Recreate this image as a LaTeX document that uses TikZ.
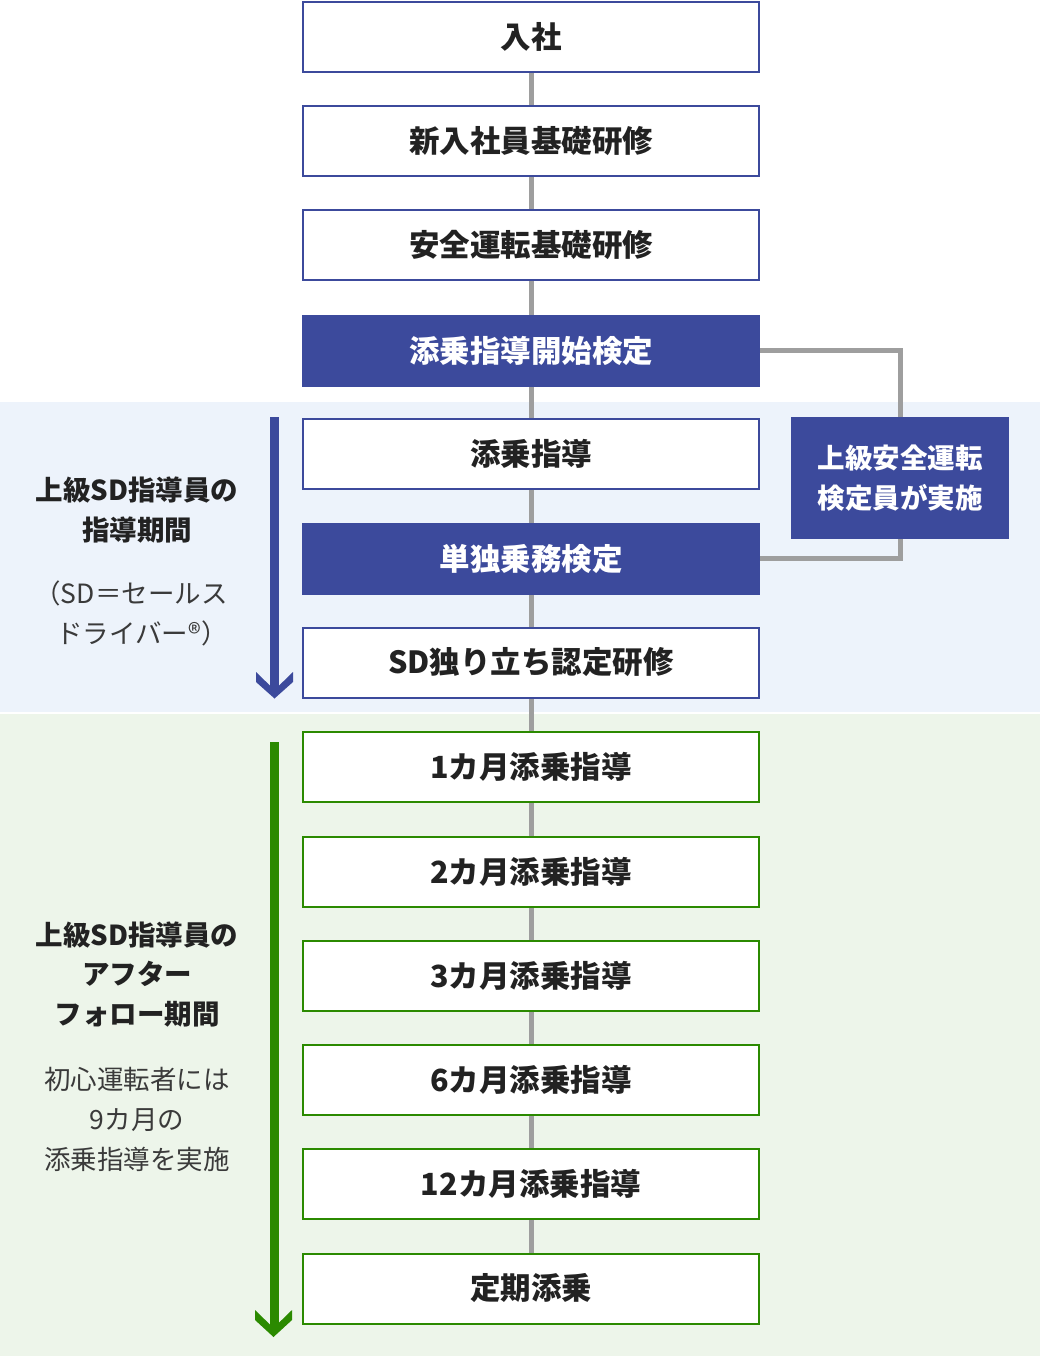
\documentclass[tikz,border=0pt]{standalone}
\usepackage{fontspec}
\setmainfont{Noto Sans CJK JP}
\begin{document}
\begin{tikzpicture}[x=1pt,y=-1pt,
  box/.style={draw=#1,line width=2pt,fill=white,minimum width=456pt,minimum height=70pt,inner sep=0pt,
    font=\fontsize{30.5}{36}\selectfont\bfseries,text=txt},
  box/.default=bl,
  fbox/.style={fill=bl,minimum width=458pt,minimum height=72pt,inner sep=0pt,
    font=\fontsize{30.5}{36}\selectfont\bfseries,text=white},
  conn/.style={draw=gr,line width=5pt},
  side/.style={align=center,inner sep=0pt}
]
\definecolor{bl}{HTML}{3C4A9C}
\definecolor{gn}{HTML}{2B8A00}
\definecolor{gr}{HTML}{9E9E9E}
\definecolor{bband}{HTML}{EDF3FB}
\definecolor{gband}{HTML}{EDF5EA}
\definecolor{txt}{HTML}{222222}
\definecolor{txt2}{HTML}{3A3A3A}
\useasboundingbox (0,0) rectangle (1040,1356);
\fill[white] (0,0) rectangle (1040,1356);
\fill[bband] (0,402) rectangle (1040,712);
\fill[gband] (0,714) rectangle (1040,1356);
% spine
\coordinate (top) at (531,37);
\coordinate (bot) at (531,1289);
\draw[conn] (top) -- (bot);
% boxes
\node[box] (b1) at (531,37) {入社};
\node[box] (b2) at (531,141) {新入社員基礎研修};
\node[box] (b3) at (531,245) {安全運転基礎研修};
\node[fbox] (b4) at (531,350.5) {添乗指導開始検定};
\node[box] (b5) at (531,454) {添乗指導};
\node[fbox] (b6) at (531,558.5) {単独乗務検定};
\node[box] (b7) at (531,662.5) {SD独り立ち認定研修};
\node[box=gn] (b8) at (531,767) {1カ月添乗指導};
\node[box=gn] (b9) at (531,872) {2カ月添乗指導};
\node[box=gn] (b10) at (531,976) {3カ月添乗指導};
\node[box=gn] (b11) at (531,1080) {6カ月添乗指導};
\node[box=gn] (b12) at (531,1184) {12カ月添乗指導};
\node[box=gn] (b13) at (531,1288.5) {定期添乗};
% side box
\node[fill=bl,minimum width=218pt,minimum height=122pt,inner sep=0pt,align=center,
  text=white,font=\fontsize{27.5}{40}\selectfont\bfseries] (sb) at (900,478) {上級安全運転\\検定員が実施};
\draw[conn] (b4.east) -| (sb.north);
\draw[conn] (sb.south) |- (b6.east);
% blue arrow
\fill[bl] (270,417) rectangle (279,690);
\fill[bl] (256,672) -- (274.5,690) -- (293,672) -- (293,682) -- (274.5,698.5) -- (256,682) -- cycle;
% green arrow
\fill[gn] (270,742) rectangle (279,1328);
\fill[gn] (255,1310) -- (273.5,1328) -- (292,1310) -- (292,1320) -- (273.5,1337) -- (255,1320) -- cycle;
% side texts
\node[side,text=txt,font=\fontsize{27.5}{40}\selectfont\bfseries] (t1) at (137,510) {上級SD指導員の\\指導期間};
\node[side,text=txt2,font=\fontsize{26.5}{39.5}\selectfont] (t2) at (137,613.5) {\hspace*{-12pt}（SD＝セールス\\ドライバー®）\hspace*{-10pt}};
\node[side,text=txt,font=\fontsize{27.5}{39.5}\selectfont\bfseries] (t3) at (137,974.5) {上級SD指導員の\\アフター\\フォロー期間};
\node[side,text=txt2,font=\fontsize{26.5}{40}\selectfont] (t4) at (137,1119) {初心運転者には\\9カ月の\\添乗指導を実施};
\end{tikzpicture}
\end{document}
